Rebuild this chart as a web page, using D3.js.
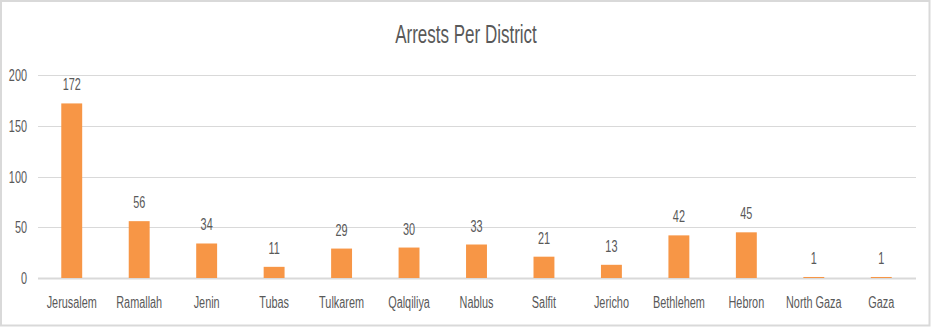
<!DOCTYPE html>
<html>
<head>
<meta charset="utf-8">
<script src="https://cdn.jsdelivr.net/npm/d3@7"></script>
<style>
  html, body { margin: 0; padding: 0; background: #fff; }
  svg { display: block; }
  text { font-family: "Liberation Sans", Arial, sans-serif; fill: #595959; }
</style>
</head>
<body>
<svg id="chart" width="931" height="327"></svg>
<script>
// Arrests recorded in each district
const districts = ["Jerusalem", "Ramallah", "Jenin", "Tubas", "Tulkarem", "Qalqiliya", "Nablus",
                   "Salfit", "Jericho", "Bethlehem", "Hebron", "North Gaza", "Gaza"];
const arrests = [172, 56, 34, 11, 29, 30, 33, 21, 13, 42, 45, 1, 1];
const yTicks = [0, 50, 100, 150, 200];
const chartTitle = "Arrests Per District";

const svg = d3.select("#chart");
const W = 931, H = 327;
const squeeze = 0.68; // condensed lettering

// place a horizontally condensed label at (x, y)
const at = (x, y) => `translate(${x},${y}) scale(${squeeze},1)`;

// outer frame
svg.append("rect")
  .attr("x", 1).attr("y", 1).attr("width", W - 2.5).attr("height", H - 2.5)
  .attr("fill", "#fff").attr("stroke", "#d9d9d9").attr("stroke-width", 2);

const x = d3.scaleBand().domain(districts).range([38, 915]).paddingInner(0.69).paddingOuter(0.345);
const y = d3.scaleLinear().domain([0, 200]).range([278, 75]);

// horizontal gridlines
svg.append("g").selectAll("line").data(yTicks).join("line")
  .attr("x1", 38).attr("x2", 916)
  .attr("y1", d => Math.round(y(d)) + 0.5).attr("y2", d => Math.round(y(d)) + 0.5)
  .attr("stroke", "#d9d9d9").attr("stroke-width", d => d === 0 ? 2 : 1);

// y-axis labels
svg.append("g").selectAll("text").data(yTicks).join("text")
  .attr("transform", d => at(27, y(d) + 6))
  .attr("text-anchor", "end").attr("font-size", 16)
  .text(d => d);

// bars
svg.append("g").selectAll("rect").data(arrests).join("rect")
  .attr("x", (d, i) => x(districts[i]))
  .attr("width", x.bandwidth())
  .attr("y", d => y(d))
  .attr("height", d => y(0) - y(d))
  .attr("fill", "#f79646");

// value labels
svg.append("g").selectAll("text").data(arrests).join("text")
  .attr("transform", (d, i) => at(x(districts[i]) + x.bandwidth() / 2, y(d) - 13))
  .attr("text-anchor", "middle").attr("font-size", 16)
  .text(d => d);

// category labels
svg.append("g").selectAll("text").data(districts).join("text")
  .attr("transform", d => at(x(d) + x.bandwidth() / 2, 308))
  .attr("text-anchor", "middle").attr("font-size", 16)
  .text(d => d);

// title
svg.append("text")
  .attr("transform", at(466, 43))
  .attr("text-anchor", "middle").attr("font-size", 25)
  .text(chartTitle);
</script>
</body>
</html>
